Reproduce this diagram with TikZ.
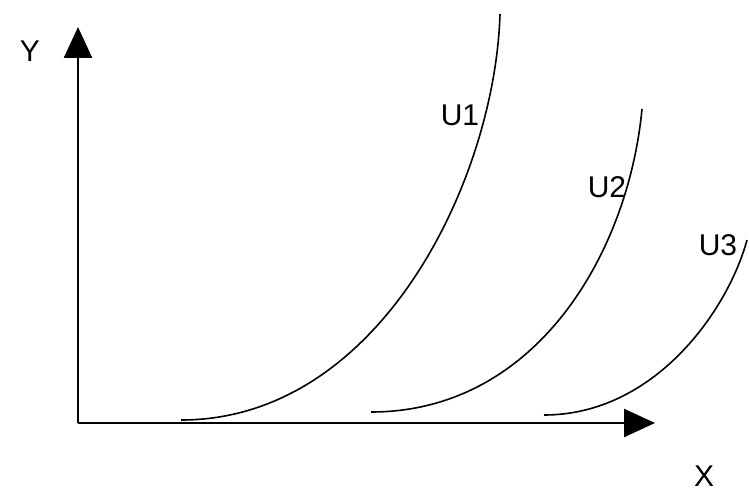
\documentclass[tikz,border=0pt]{standalone}
\usepackage{fontspec}
\setmainfont{Liberation Sans}
\usetikzlibrary{arrows.meta}
\begin{document}
\begin{tikzpicture}[x=1pt,y=-1pt,
  axis/.style={line width=2.5pt,-{Triangle[length=31pt,width=28pt]}},
  indiff/.style={line width=1.6pt},
  lbl/.style={font=\fontsize{30}{30}\selectfont}]
\useasboundingbox (0,0) rectangle (749,497);
% axes:
\coordinate (o) at (78,423);
\coordinate (ytip) at (78,27);
\coordinate (xtip) at (655,423);
\draw[axis] (o) -- (ytip);
\draw[axis] (o) -- (xtip);
\node[lbl] (ylab) at (30,51) {Y};
\node[lbl] (xlab) at (704,476) {X};
% indifference curves:
\coordinate (u1a) at (181,420); \coordinate (u1b) at (500,14);
\draw[indiff] (u1a) .. controls (380,420) and (495,180) .. (u1b);
\coordinate (u2a) at (371,412); \coordinate (u2b) at (642,109);
\draw[indiff] (u2a) .. controls (535,412) and (628,255) .. (u2b);
\coordinate (u3a) at (544,415); \coordinate (u3b) at (747,240);
\draw[indiff] (u3a) .. controls (655,415) and (728,310) .. (u3b);
% labels:
\node[lbl] (u1lab) at (460,115) {U1};
\node[lbl] (u2lab) at (607,187) {U2};
\node[lbl] (u3lab) at (718,245) {U3};
\end{tikzpicture}
\end{document}
